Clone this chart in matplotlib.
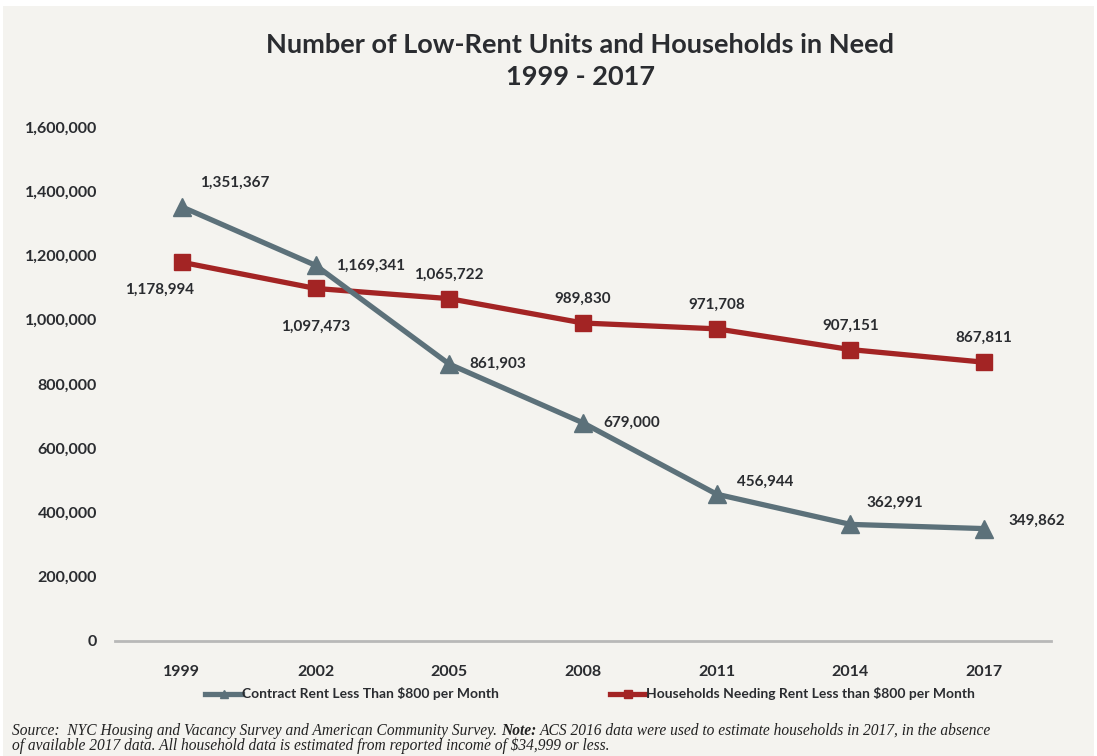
import matplotlib
matplotlib.use("Agg")
import matplotlib.pyplot as plt
from matplotlib.patches import Rectangle
from matplotlib.lines import Line2D

# data
years = ["1999", "2002", "2005", "2008", "2011", "2014", "2017"]
contract_rent = [1351367, 1169341, 861903, 679000, 456944, 362991, 349862]
households_need = [1178994, 1097473, 1065722, 989830, 971708, 907151, 867811]
yticks = [0, 200000, 400000, 600000, 800000, 1000000, 1200000, 1400000, 1600000]

# label offsets in pixels (dx, dy, ha)
grey_off = [(18, 24, "left"), (20, 0, "left"), (20, 0, "left"), (20, 0, "left"),
            (20, 12, "left"), (16, 22, "left"), (24, 8, "left")]
red_off = [(-22, -28, "center"), (0, -38, "center"), (0, 24, "center"), (0, 24, "center"),
           (0, 24, "center"), (0, 24, "center"), (0, 24, "center")]

BG = "#f4f3ef"
GREY = "#5c717a"
RED = "#a32424"
TXT = "#2a2c30"

plt.rcParams["font.family"] = ["Lato", "DejaVu Sans"]

fig = plt.figure(figsize=(10.97, 7.56), dpi=100)
fig.patch.set_facecolor("white")
fig.patches.append(Rectangle((3 / 1097, 0), 1091 / 1097, 750 / 756, transform=fig.transFigure,
                             facecolor=BG, edgecolor="none", zorder=-10))

ax = fig.add_axes([115 / 1097, 1 - 641 / 756, (1051 - 115) / 1097, (641 - 127) / 756])
ax.set_facecolor(BG)
ax.patch.set_alpha(0)

x = list(range(len(years)))
ax.plot(x, households_need, color=RED, lw=3.8, marker="s", ms=12, zorder=3,
        label="Households Needing Rent Less than $800 per Month")
ax.plot(x, contract_rent, color=GREY, lw=3.8, marker="^", ms=13, zorder=4,
        label="Contract Rent Less Than $800 per Month")

for i in x:
    dx, dy, ha = grey_off[i]
    ax.annotate(f"{contract_rent[i]:,}", (i, contract_rent[i]), xytext=(dx, dy),
                textcoords="offset pixels", ha=ha, va="center", fontsize=11,
                fontweight="bold", color=TXT, zorder=5)
    dx, dy, ha = red_off[i]
    ax.annotate(f"{households_need[i]:,}", (i, households_need[i]), xytext=(dx, dy),
                textcoords="offset pixels", ha=ha, va="center", fontsize=11,
                fontweight="bold", color=TXT, zorder=5)

ax.set_xlim(-0.5, 6.5)
ax.set_ylim(0, 1600000)
ax.set_xticks(x)
ax.set_xticklabels(years)
ax.set_yticks(yticks)
ax.set_yticklabels([f"{v:,}" for v in yticks])
for lab in ax.get_xticklabels() + ax.get_yticklabels():
    lab.set_fontweight("bold")
    lab.set_fontsize(11.5)
    lab.set_color(TXT)
ax.tick_params(axis="both", length=0)
ax.tick_params(axis="x", pad=17)
ax.tick_params(axis="y", pad=13)
for s in ["top", "right", "left"]:
    ax.spines[s].set_visible(False)
ax.spines["bottom"].set_color("#b8b8b8")
ax.spines["bottom"].set_linewidth(2)
ax.spines["bottom"].set_zorder(1)

fig.text(580 / 1097, 1 - 45 / 756, "Number of Low-Rent Units and Households in Need",
         ha="center", va="center", fontsize=19.5, fontweight="bold", color=TXT)
fig.text(580 / 1097, 1 - 77 / 756, "1999 - 2017",
         ha="center", va="center", fontsize=19.5, fontweight="bold", color=TXT)

h_grey = Line2D([], [], color=GREY, lw=3.8, marker="^", ms=6)
h_red = Line2D([], [], color=RED, lw=3.8, marker="s", ms=6)
leg = fig.legend([h_grey, h_red],
                 ["Contract Rent Less Than $800 per Month",
                  "Households Needing Rent Less than $800 per Month"],
                 loc="center", bbox_to_anchor=(590 / 1097, 1 - 694 / 756), ncol=2,
                 frameon=False, handlelength=2.6, handletextpad=0.0, columnspacing=8.0,
                 prop={"family": ["Lato", "DejaVu Sans"], "weight": "bold", "size": 10})
for t in leg.get_texts():
    t.set_color(TXT)

# source note with bold "Note:"
src_kw = dict(fontsize=11.2, style="italic", family=["Liberation Serif", "DejaVu Serif"],
              color="#222222", va="baseline")
y1 = 1 - 735 / 756
y2 = 1 - 750 / 756
t1 = fig.text(12 / 1097, y1, "Source:  NYC Housing and Vacancy Survey and American Community Survey. ", **src_kw)
fig.canvas.draw()
r = fig.canvas.get_renderer()
bb = t1.get_window_extent(r)
t2 = fig.text(bb.x1 / 1097, y1, "Note:", fontweight="bold", **src_kw)
bb2 = t2.get_window_extent(r)
fig.text(bb2.x1 / 1097 + 4 / 1097, y1,
         "ACS 2016 data were used to estimate households in 2017, in the absence", **src_kw)
fig.text(12 / 1097, y2,
         "of available 2017 data. All household data is estimated from reported income of $34,999 or less.",
         **src_kw)

fig.savefig("out.png", dpi=100, facecolor="white")
